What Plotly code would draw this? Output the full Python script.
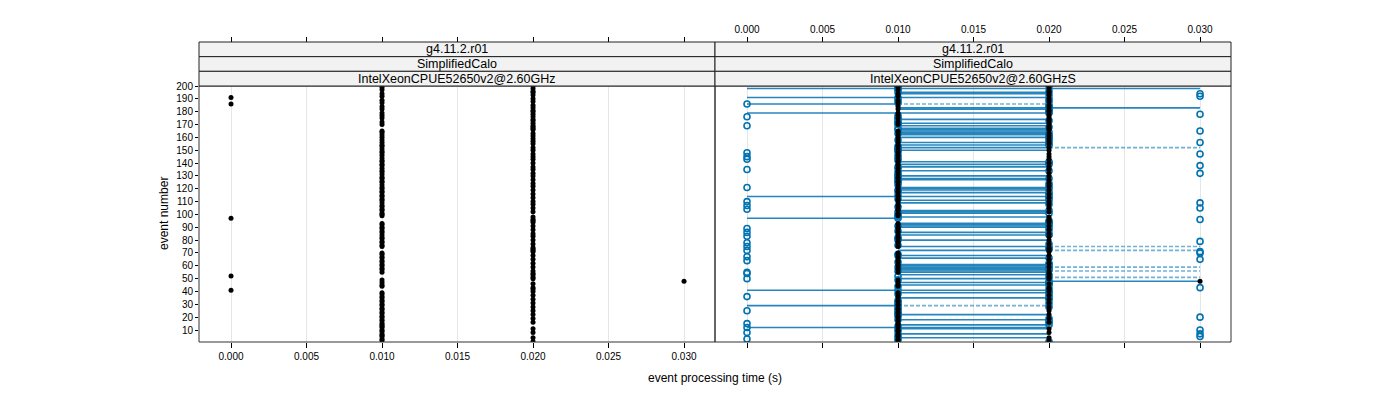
import plotly.graph_objects as go

# ---------------- data ----------------
events = list(range(1, 201))

# reference run (left panel), processing time in centiseconds, events 1..200
ref_cs = ("2112111211" "2111121121" "1211211211" "2112112112" "0221121312"
          "2022121121" "1211211211" "2222112112" "1121211211" "2112220211"
          "1211211212" "1121121121" "1212112112" "1211212112" "1121212112"
          "1211212121" "2121122221" "2122121212" "2121201212" "0121221212")

# comparison run (right panel, open circles), centiseconds, events 1..200
cmp_cs = ("2101313013" "1012022123" "1111011211" "2112202122" "1231222210"
          "2120012212" "2210320113" "3022012031" "1102201202" "1222231111"
          "2120310230" "2122122112" "0212111211" "1312011322" "2101013011"
          "1112232122" "2212311201" "1121101322" "2222201212" "1323121112")

# connecting segments in the right panel: event, from (s), to (s), dashed?
seg_event = [198, 191, 186, 183, 179, 114, 97, 48, 41, 29, 12,
             186, 152, 75, 72, 59, 56, 51, 29,
             195, 194, 182, 174, 171, 169, 167, 166, 165, 164, 163, 162, 160,
             156, 154, 152, 150, 141, 139, 137, 134, 130, 128, 127, 121, 120,
             119, 117, 111, 109, 103, 102, 101, 98, 93, 92, 91, 90, 86, 84, 80,
             75, 72, 68, 66, 61, 60, 59, 58, 57, 56, 55, 53, 50, 47, 45, 39,
             35, 22, 18, 14, 11, 7, 4]
seg_from = ([0.00, 0.00, 0.00, 0.01, 0.00, 0.00, 0.00, 0.02, 0.00, 0.00, 0.00]
            + [0.01, 0.02, 0.02, 0.02, 0.02, 0.02, 0.02, 0.01]
            + [0.01] * 64)
seg_to = ([0.03, 0.02, 0.01, 0.03, 0.02, 0.02, 0.01, 0.03, 0.02, 0.01, 0.02]
          + [0.02, 0.03, 0.03, 0.03, 0.03, 0.03, 0.03, 0.02]
          + [0.02] * 64)
seg_dashed = [False] * 11 + [True] * 8 + [False] * 64

x_ticks = [0.000, 0.005, 0.010, 0.015, 0.020, 0.025, 0.030]
x_tick_text = ["0.000", "0.005", "0.010", "0.015", "0.020", "0.025", "0.030"]
y_ticks = list(range(10, 201, 10))

strip_left = ["g4.11.2.r01", "SimplifiedCalo", "IntelXeonCPUE52650v2@2.60GHz"]
strip_right = ["g4.11.2.r01", "SimplifiedCalo", "IntelXeonCPUE52650v2@2.60GHzS"]

# ---------------- derived ----------------
ref_time = [int(c) / 100 for c in ref_cs]
cmp_time = [int(c) / 100 for c in cmp_cs]

BLUE = "rgb(0,114,178)"
FONT = "Liberation Sans, Arial, sans-serif"
OFF = 8                      # page body margin
W, H = 1400 - 2 * OFF, 400 - OFF


def px(xp):
    return (xp - OFF) / W


def py(yp):
    return 1 - (yp - OFF) / H


L0, L1, R1 = 199, 715, 1231
PT, PB = 86, 342
STRIP_TOP = 42
XR = [-0.00212, 0.03205]
YR = [0.66, 200]

fig = go.Figure()

# left panel
fig.add_trace(go.Scatter(x=ref_time, y=events, mode="markers",
                         marker=dict(color="black", size=5),
                         xaxis="x", yaxis="y", showlegend=False, hoverinfo="x+y"))

# right panel segments
for dashed in (False, True):
    xs, ys = [], []
    for e, a, b, d in zip(seg_event, seg_from, seg_to, seg_dashed):
        if d == dashed:
            xs += [a, b, None]
            ys += [e, e, None]
    fig.add_trace(go.Scatter(x=xs, y=ys, mode="lines",
                             line=dict(color=BLUE, width=1.6,
                                       dash="4px,2px" if dashed else "solid"),
                             opacity=0.55 if dashed else 0.85,
                             xaxis="x2", yaxis="y2", showlegend=False,
                             hoverinfo="skip"))

# comparison circles
fig.add_trace(go.Scatter(x=cmp_time, y=events, mode="markers",
                         marker=dict(symbol="circle-open", color=BLUE, size=6,
                                     line=dict(width=1.6, color=BLUE)),
                         xaxis="x2", yaxis="y2", showlegend=False))

# reference dots in right panel
rx = [t for t in ref_time if t > 0]
ry = [e for e, t in zip(events, ref_time) if t > 0]
fig.add_trace(go.Scatter(x=rx, y=ry, mode="markers",
                         marker=dict(color="black", size=5),
                         xaxis="x2", yaxis="y2", showlegend=False))

# dummy traces so the top tick axes render
fig.add_trace(go.Scatter(x=[None], y=[None], xaxis="x3", yaxis="y2",
                         showlegend=False, hoverinfo="skip"))
fig.add_trace(go.Scatter(x=[None], y=[None], xaxis="x4", yaxis="y",
                         showlegend=False, hoverinfo="skip"))

tickfont = dict(family=FONT, size=10, color="black")
common_x = dict(range=XR, tickvals=x_ticks, ticktext=x_tick_text,
                ticks="outside", ticklen=5, tickcolor="black",
                tickfont=tickfont, zeroline=False, showline=False,
                automargin=False)

fig.update_layout(
    width=W, height=H,
    margin=dict(l=0, r=0, t=0, b=0, pad=0, autoexpand=False),
    paper_bgcolor="white", plot_bgcolor="white",
    font=dict(family=FONT, size=10, color="black"),
    xaxis=dict(domain=[px(L0), px(L1)], anchor="y", showgrid=True,
               gridcolor="#e6e6e6", gridwidth=1, **common_x),
    yaxis=dict(domain=[py(PB), py(PT)], anchor="x", range=YR,
               tickvals=y_ticks, ticks="outside", ticklen=3,
               tickcolor="black", tickfont=dict(family=FONT, size=10),
               showgrid=False, zeroline=False, showline=False,
               automargin=False),
    xaxis2=dict(domain=[px(L1), px(R1)], anchor="y2", showgrid=True,
                gridcolor="#e6e6e6", gridwidth=1, showticklabels=False,
                **common_x),
    yaxis2=dict(domain=[py(PB), py(PT)], anchor="x2", range=YR,
                showticklabels=False, ticks="", showgrid=False,
                zeroline=False, showline=False, automargin=False),
    xaxis3=dict(domain=[px(L1), px(R1)], overlaying="x2", anchor="free",
                position=py(STRIP_TOP), side="top", showgrid=False,
                **common_x),
    xaxis4=dict(domain=[px(L0), px(L1)], overlaying="x", anchor="free",
                position=py(STRIP_TOP), side="top", showgrid=False,
                showticklabels=False, **common_x),
)

shapes = []
annotations = []
# panel frames
for x0, x1 in ((L0, L1), (L1, R1)):
    shapes.append(dict(type="rect", xref="paper", yref="paper",
                       x0=px(x0), x1=px(x1), y0=py(PB), y1=py(PT),
                       line=dict(color="#333333", width=1),
                       fillcolor="rgba(0,0,0,0)", layer="above"))
# strips
strip_h = (PT - STRIP_TOP) / 3
for (x0, x1), labels in (((L0, L1), strip_left), ((L1, R1), strip_right)):
    for i, lab in enumerate(labels):
        y_top = STRIP_TOP + i * strip_h
        y_bot = y_top + strip_h
        shapes.append(dict(type="rect", xref="paper", yref="paper",
                           x0=px(x0), x1=px(x1), y0=py(y_bot), y1=py(y_top),
                           line=dict(color="#222222", width=1),
                           fillcolor="#f2f2f2", layer="above"))
        annotations.append(dict(xref="paper", yref="paper",
                                x=px((x0 + x1) / 2), y=py((y_top + y_bot) / 2),
                                text=lab, showarrow=False,
                                font=dict(family=FONT, size=12.5, color="black"),
                                xanchor="center", yanchor="middle"))

annotations.append(dict(xref="paper", yref="paper", x=px(715), y=py(378),
                        text="event processing time (s)", showarrow=False,
                        font=dict(family=FONT, size=12, color="black"),
                        xanchor="center", yanchor="middle"))
annotations.append(dict(xref="paper", yref="paper", x=px(164), y=py(214),
                        text="event number", showarrow=False, textangle=-90,
                        font=dict(family=FONT, size=12, color="black"),
                        xanchor="center", yanchor="middle"))

fig.update_layout(shapes=shapes, annotations=annotations)

fig.write_html("out.html")
